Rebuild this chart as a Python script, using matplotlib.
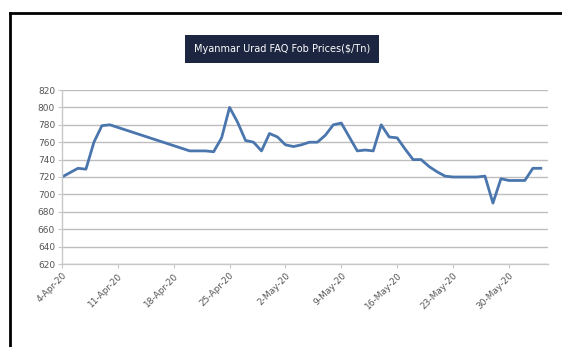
import matplotlib
matplotlib.use('Agg')
import matplotlib.pyplot as plt
import matplotlib.dates as mdates
from matplotlib.lines import Line2D
import numpy as np
import pandas as pd

# data
dates = ['2020-04-04', '2020-04-05', '2020-04-06', '2020-04-07', '2020-04-08',
         '2020-04-09', '2020-04-10', '2020-04-20', '2020-04-21', '2020-04-22',
         '2020-04-23', '2020-04-24', '2020-04-25', '2020-04-26', '2020-04-27',
         '2020-04-28', '2020-04-29', '2020-04-30', '2020-05-01', '2020-05-02',
         '2020-05-03', '2020-05-04', '2020-05-05', '2020-05-06', '2020-05-07',
         '2020-05-08', '2020-05-09', '2020-05-10', '2020-05-11', '2020-05-12',
         '2020-05-13', '2020-05-14', '2020-05-15', '2020-05-16', '2020-05-17',
         '2020-05-18', '2020-05-19', '2020-05-20', '2020-05-21', '2020-05-22',
         '2020-05-23', '2020-05-24', '2020-05-25', '2020-05-26', '2020-05-27',
         '2020-05-28', '2020-05-29', '2020-05-30', '2020-05-31', '2020-06-01',
         '2020-06-02', '2020-06-03']
prices = [720, 725, 730, 729, 760,
          779, 780, 750, 750, 750,
          749, 765, 800, 783, 762,
          760, 750, 770, 766, 757,
          755, 757, 760, 760, 768,
          780, 782, 766, 750, 751,
          750, 780, 766, 765, 752,
          740, 740, 732, 726, 721,
          720, 720, 720, 720, 721,
          690, 718, 716, 716, 716,
          730, 730]

tick_dates = ['2020-04-04', '2020-04-11', '2020-04-18', '2020-04-25', '2020-05-02',
              '2020-05-09', '2020-05-16', '2020-05-23', '2020-05-30']
tick_labels = ['4-Apr-20', '11-Apr-20', '18-Apr-20', '25-Apr-20', '2-May-20',
               '9-May-20', '16-May-20', '23-May-20', '30-May-20']
y_ticks = list(range(620, 821, 20))

title = 'Myanmar Urad FAQ Fob Prices($/Tn)'

x = pd.to_datetime(dates)
xt = pd.to_datetime(tick_dates)

fig = plt.figure(figsize=(5.62, 3.47), dpi=100)
ax = fig.add_axes([62 / 562, 1 - 264 / 347, 486 / 562, 174 / 347])

ax.plot(x, prices, color='#4a76ad', linewidth=2.0, solid_joinstyle='round')

ax.set_ylim(620, 820)
ax.set_yticks(y_ticks)
ax.set_xlim(mdates.date2num(xt[0]), mdates.date2num(xt[0]) + 60.9)
ax.set_xticks(mdates.date2num(xt))
ax.set_xticklabels(tick_labels, rotation=45, ha='right', rotation_mode='anchor')

ax.grid(axis='y', color='#bdbdbd', linewidth=1.0)
ax.set_axisbelow(True)
for side in ['top', 'right']:
    ax.spines[side].set_visible(False)
for side in ['left', 'bottom']:
    ax.spines[side].set_color('#c8c8c8')
    ax.spines[side].set_linewidth(1.0)
ax.tick_params(axis='both', colors='#c8c8c8', labelcolor='#555555',
               labelsize=6.5, length=3, width=0.8, pad=2)

# title box
fig.text(282 / 562, 1 - 49 / 347, title, ha='center', va='center',
         fontsize=7, color='white', family=['Liberation Sans Narrow', 'DejaVu Sans'],
         bbox=dict(boxstyle='square,pad=0.9', facecolor='#1c2640', edgecolor='none'))

# black outer frame (top and left)
fig.add_artist(Line2D([10 / 562, 1], [1 - 13 / 347, 1 - 13 / 347], color='black',
                      linewidth=2, transform=fig.transFigure))
fig.add_artist(Line2D([10 / 562, 10 / 562], [0, 1 - 13 / 347], color='black',
                      linewidth=2, transform=fig.transFigure))

fig.savefig('out.png', dpi=100)
